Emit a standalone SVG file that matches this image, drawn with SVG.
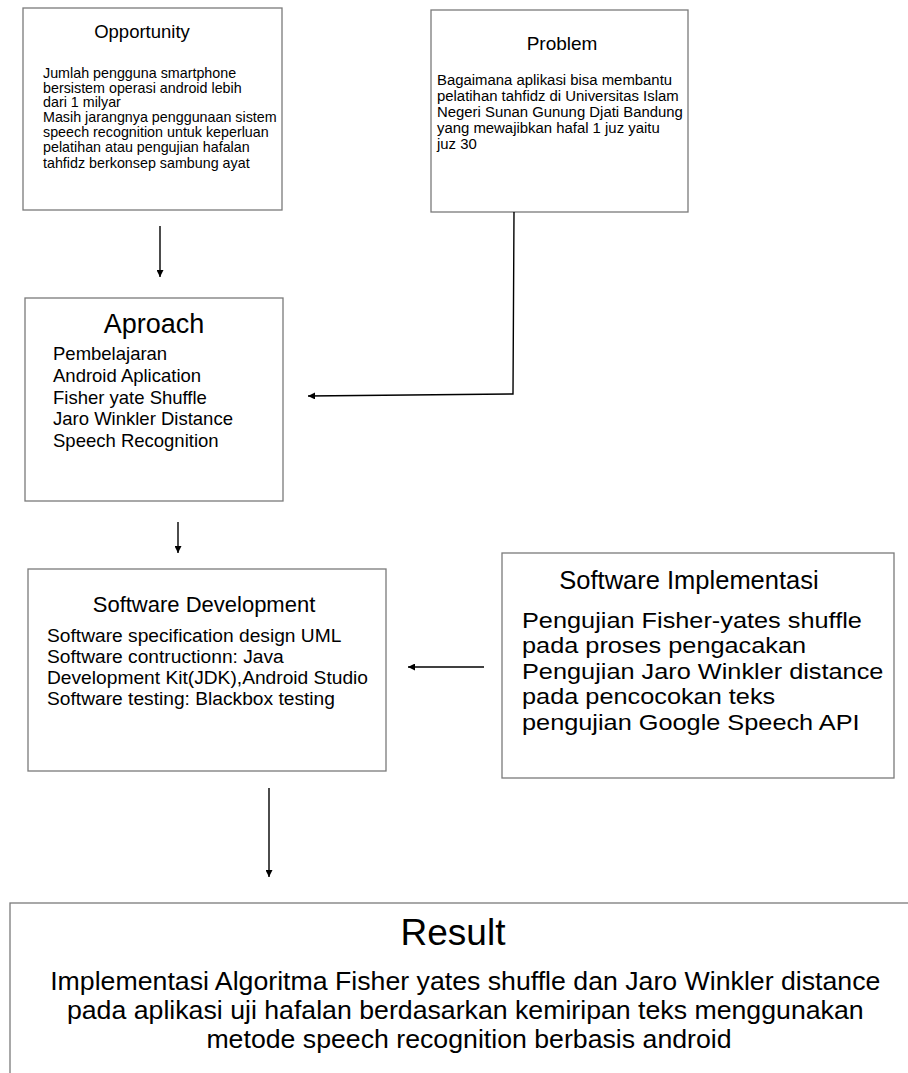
<svg xmlns="http://www.w3.org/2000/svg" width="908" height="1073" viewBox="0 0 908 1073">
<style>
.box{fill:#fff;stroke:#7a7a7a;stroke-width:1.3}
.t{font-family:"Liberation Sans",Arial,sans-serif;fill:#000}
.c{text-anchor:middle}
.con{fill:none;stroke:#000;stroke-width:1.4}
</style>
<defs>
<marker id="ah" viewBox="0 0 10 10" refX="10" refY="5" markerWidth="7" markerHeight="7" markerUnits="userSpaceOnUse" orient="auto">
<path d="M0,0 L10,5 L0,10 z" fill="#000"/>
</marker>
</defs>
<rect width="908" height="1073" fill="#fff"/>
<g id="opportunity">
<rect class="box" x="23" y="8" width="259" height="202"/>
<text class="t c" x="142" y="38" font-size="18.5">Opportunity</text>
<text class="t" font-size="14.3">
<tspan x="43" y="78">Jumlah pengguna smartphone</tspan>
<tspan x="43" y="93">bersistem operasi android lebih</tspan>
<tspan x="43" y="107">dari 1 milyar</tspan>
<tspan x="43" y="122">Masih jarangnya penggunaan sistem</tspan>
<tspan x="43" y="137">speech recognition untuk keperluan</tspan>
<tspan x="43" y="152">pelatihan atau pengujian hafalan</tspan>
<tspan x="43" y="168">tahfidz berkonsep sambung ayat</tspan>
</text>
</g>
<g id="problem">
<rect class="box" x="431" y="10" width="257" height="202"/>
<text class="t c" x="562" y="50" font-size="19">Problem</text>
<text class="t" font-size="14.9">
<tspan x="437" y="85">Bagaimana aplikasi bisa membantu</tspan>
<tspan x="437" y="101">pelatihan tahfidz di Universitas Islam</tspan>
<tspan x="437" y="117">Negeri Sunan Gunung Djati Bandung</tspan>
<tspan x="437" y="133">yang mewajibkan hafal 1 juz yaitu</tspan>
<tspan x="437" y="149">juz 30</tspan>
</text>
</g>
<g id="aproach">
<rect class="box" x="25" y="298" width="258" height="203"/>
<text class="t c" x="154" y="333" font-size="27">Aproach</text>
<text class="t" font-size="18.5">
<tspan x="53" y="360">Pembelajaran</tspan>
<tspan x="53" y="382">Android Aplication</tspan>
<tspan x="53" y="404">Fisher yate Shuffle</tspan>
<tspan x="53" y="425">Jaro Winkler Distance</tspan>
<tspan x="53" y="447">Speech Recognition</tspan>
</text>
</g>
<g id="software-development">
<rect class="box" x="28" y="569" width="358" height="202"/>
<text class="t c" x="204" y="612" font-size="22">Software Development</text>
<text class="t" font-size="19.2">
<tspan x="47" y="642">Software specification design UML</tspan>
<tspan x="47" y="663">Software contructionn: Java</tspan>
<tspan x="47" y="684">Development Kit(JDK),Android Studio</tspan>
<tspan x="47" y="705">Software testing: Blackbox testing</tspan>
</text>
</g>
<g id="software-implementasi">
<rect class="box" x="502" y="553" width="392" height="225"/>
<text class="t c" x="689" y="589" font-size="25.5">Software Implementasi</text>
<g transform="translate(522,0) scale(1.11,1)">
<text class="t" font-size="22.8">
<tspan x="0" y="628">Pengujian Fisher-yates shuffle</tspan>
<tspan x="0" y="653.5">pada proses pengacakan</tspan>
<tspan x="0" y="679">Pengujian Jaro Winkler distance</tspan>
<tspan x="0" y="704.5">pada pencocokan teks</tspan>
<tspan x="0" y="730">pengujian Google Speech API</tspan>
</text>
</g>
</g>
<g id="result">
<rect class="box" x="10" y="903" width="910" height="190"/>
<text class="t c" x="453" y="945" font-size="37">Result</text>
<text class="t c" font-size="26.7">
<tspan x="469" y="990">Implementasi Algoritma Fisher yates shuffle dan Jaro Winkler distance</tspan>
<tspan x="469" y="1019">pada aplikasi uji hafalan berdasarkan kemiripan teks menggunakan</tspan>
<tspan x="469" y="1048">metode speech recognition berbasis android</tspan>
</text>
</g>
<g id="connectors">
<path class="con" d="M160,226 L160,277" marker-end="url(#ah)"/>
<path class="con" d="M514,212 L513,394 L308,396" marker-end="url(#ah)"/>
<path class="con" d="M178,522 L178,553" marker-end="url(#ah)"/>
<path class="con" d="M484,667 L408,667" marker-end="url(#ah)"/>
<path class="con" d="M269,788 L269,877" marker-end="url(#ah)"/>
</g>
</svg>
